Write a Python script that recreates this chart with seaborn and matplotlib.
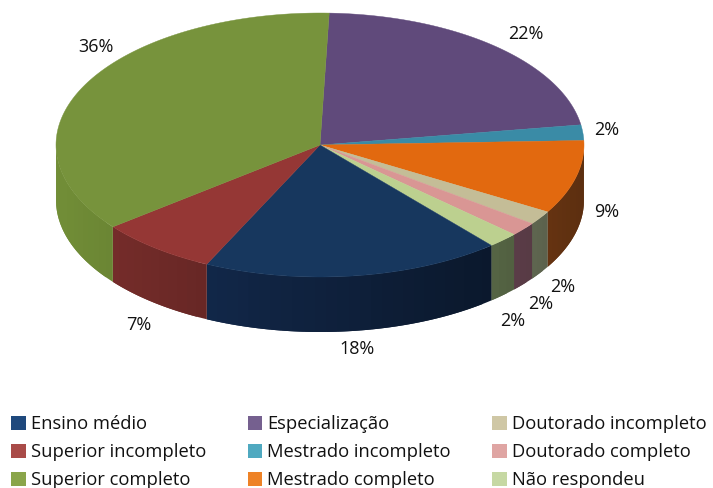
import numpy as np
import matplotlib
matplotlib.use("Agg")
import matplotlib.pyplot as plt
from matplotlib.colors import to_rgb
from matplotlib.patches import Patch
from matplotlib.collections import PolyCollection
import seaborn as sns

# --- data, clockwise from the top of the pie ---
categories = ["Especialização", "Mestrado incompleto", "Mestrado completo",
              "Doutorado incompleto", "Doutorado completo", "Não respondeu",
              "Ensino médio", "Superior incompleto", "Superior completo"]
shares = [22.0, 1.9, 9.0, 1.7, 1.7, 1.9, 18.3, 7.3, 36.2]
value_labels = ["22%", "2%", "9%", "2%", "2%", "2%", "18%", "7%", "36%"]
legend_order = ["Ensino médio", "Superior incompleto", "Superior completo",
                "Especialização", "Mestrado incompleto", "Mestrado completo",
                "Doutorado incompleto", "Doutorado completo", "Não respondeu"]

# --- styles ---
top_colors = ["#604a7b", "#3a8ba6", "#e2690f", "#c4bd97", "#d99694", "#bcd08f",
              "#17375e", "#953735", "#77933c"]
wall_colors = ["#604a7b", "#3a8ba6", "#c26221", "#aebb93", "#a06b7e", "#8fa872",
               "#12284a", "#6a2826", "#61792f"]
legend_colors = {"Ensino médio": "#1f497d", "Superior incompleto": "#a94b48",
                 "Superior completo": "#8aa54a", "Especialização": "#75608f",
                 "Mestrado incompleto": "#4fa9c0", "Mestrado completo": "#ee8226",
                 "Doutorado incompleto": "#cfc7a5", "Doutorado completo": "#dfa5a3",
                 "Não respondeu": "#c6d8a3"}
label_xy = [(526, 34), (607, 130), (607, 212), (563, 287), (541, 304), (513, 321),
            (357, 349), (139, 325), (96, 47)]
CX, CY, RX, RY, DEPTH = 320, 145, 264, 132, 55
START = 88.0

sns.set_theme(style="white")
plt.rcParams["font.family"] = ["Open Sans", "DejaVu Sans"]
palette = sns.color_palette(top_colors)
walls = sns.color_palette(wall_colors)

fig = plt.figure(figsize=(7.13, 4.88), dpi=100)
ax = fig.add_axes([0, 0, 1, 1])
ax.set_xlim(0, 713)
ax.set_ylim(488, 0)
ax.axis("off")

fractions = np.asarray(shares, float) / np.sum(shares)
edges = START - 360 * np.concatenate([[0], np.cumsum(fractions)])


def rim(theta_deg, drop=0.0):
    t = np.radians(theta_deg)
    return CX + RX * np.cos(t), CY - RY * np.sin(t) + drop


# side walls: only the front half of the rim is visible
for i in range(len(shares)):
    hi, lo = edges[i], edges[i + 1]
    for k in range(-1, 1):
        # clip the slice to the visible front half (sin < 0)
        a = min(hi, 360 * k)
        b = max(lo, 360 * k - 180)
        if a <= b:
            continue
        steps = np.linspace(a, b, max(2, int((a - b) / 2.5) + 2))
        polys, cols = [], []
        for j, (s0, s1) in enumerate(zip(steps[:-1], steps[1:])):
            # each strip runs on under the next one, so that no seam shows
            s_end = steps[min(j + 2, len(steps) - 1)]
            arc = np.linspace(s0, s_end, 6)
            x, y = rim(arc)
            polys.append(np.c_[np.r_[x, x[::-1]], np.r_[y, y[::-1] + DEPTH]])
            mid = np.cos(np.radians((s0 + s1) / 2))
            shade = 1 - 0.35 * (mid + 0.5)
            cols.append(tuple(np.clip(np.array(to_rgb(walls[i])) * shade, 0, 1)))
        ax.add_collection(PolyCollection(polys, facecolors=cols, edgecolors="none",
                                         linewidths=0, zorder=2))

# top faces
for i in range(len(shares)):
    th = np.linspace(edges[i], edges[i + 1], 120)
    x, y = rim(th)
    ax.fill(np.r_[CX, x], np.r_[CY, y], color=palette[i], lw=0.3, zorder=3)

for txt, (x, y) in zip(value_labels, label_xy):
    ax.text(x, y, txt, ha="center", va="center", fontsize=13, color="#111111")

handles = [Patch(facecolor=legend_colors[c], edgecolor="none", label=c) for c in legend_order]
ax.legend(handles=handles, ncol=3, loc="upper left",
          bbox_to_anchor=(11 / 713, 1 - 415 / 488), frameon=False, borderpad=0,
          borderaxespad=0, fontsize=13.25, handlelength=0.8, handleheight=0.8,
          handletextpad=0.28, columnspacing=2.25, labelspacing=0.55,
          labelcolor="#111111")

fig.savefig("out.png", dpi=100)
